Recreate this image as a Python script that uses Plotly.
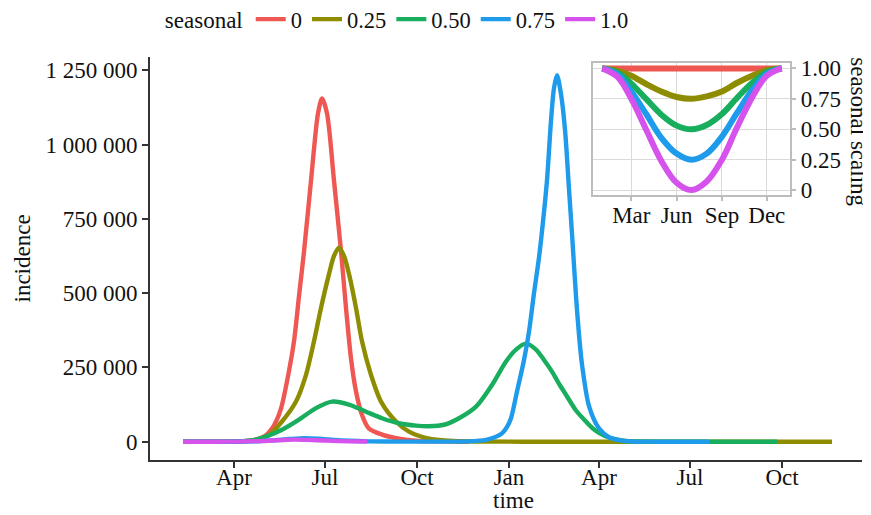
import plotly.graph_objects as go

# ---------------- data ----------------
SERIES_NAMES = ["0", "0.25", "0.50", "0.75", "1.0"]
SERIES_COLORS = ["#EE5752", "#8E8C00", "#19AE5E", "#1E9BEA", "#D552EC"]

s0_dates = ["2020-02-10", "2020-03-12", "2020-04-01", "2020-04-11", "2020-04-21", "2020-04-26",
            "2020-05-03", "2020-05-09", "2020-05-14", "2020-05-18", "2020-05-24", "2020-05-31",
            "2020-06-05", "2020-06-10", "2020-06-17", "2020-06-24", "2020-06-28", "2020-07-03",
            "2020-07-10", "2020-07-17", "2020-07-22", "2020-07-27", "2020-08-01", "2020-08-07",
            "2020-08-14", "2020-08-27", "2020-09-13", "2020-09-30", "2020-10-23", "2020-11-22"]
s0_values = [0, 0, 300, 1000, 5000, 10000,
             22000, 44000, 75000, 111000, 203000, 338000,
             490000, 640000, 878000, 1105000, 1155000, 1105000,
             878000, 642000, 450000, 280000, 169000, 90000,
             44000, 24000, 10000, 3000, 1000, 0]

s25_dates = ["2020-02-10", "2020-03-12", "2020-04-01", "2020-04-11", "2020-04-23", "2020-05-06",
             "2020-05-19", "2020-06-02", "2020-06-12", "2020-06-20", "2020-06-27", "2020-07-05",
             "2020-07-10", "2020-07-15", "2020-07-20", "2020-07-25", "2020-08-01", "2020-08-07",
             "2020-08-16", "2020-08-26", "2020-09-10", "2020-09-23", "2020-10-13", "2020-11-02",
             "2020-12-02", "2021-01-15", "2021-06-01", "2021-11-20"]
s25_values = [0, 0, 500, 2000, 7000, 23000,
              68000, 135000, 225000, 338000, 450000, 564000,
              625000, 653000, 625000, 564000, 450000, 338000,
              225000, 135000, 68000, 34000, 10000, 3000,
              500, 0, 0, 0]

s50_dates = ["2020-02-10", "2020-03-12", "2020-04-01", "2020-04-16", "2020-04-23", "2020-05-03",
             "2020-05-19", "2020-06-05", "2020-06-22", "2020-07-08", "2020-07-25", "2020-08-11",
             "2020-08-27", "2020-09-13", "2020-09-30", "2020-10-13", "2020-10-28", "2020-11-12",
             "2020-11-29", "2020-12-15", "2020-12-29", "2021-01-08", "2021-01-18", "2021-01-28",
             "2021-02-05", "2021-02-13", "2021-02-20", "2021-02-27", "2021-03-09", "2021-03-17",
             "2021-03-25", "2021-04-01", "2021-04-11", "2021-04-26", "2021-05-11", "2021-05-31",
             "2021-09-26"]
s50_values = [0, 0, 500, 3000, 7000, 17000,
              40000, 74000, 113000, 135000, 125000, 101000,
              79000, 62000, 54000, 52000, 57000, 79000,
              118000, 191000, 270000, 310000, 330000, 310000,
              275000, 236000, 195000, 158000, 105000, 75000,
              47000, 30000, 14000, 3000, 500, 0,
              0]

s75_dates = ["2020-02-10", "2020-03-12", "2020-04-01", "2020-04-26", "2020-05-11", "2020-05-26",
             "2020-06-10", "2020-06-25", "2020-07-10", "2020-07-25", "2020-08-14", "2020-09-13",
             "2020-10-23", "2020-11-22", "2020-12-09", "2020-12-17", "2020-12-25", "2020-12-30",
             "2021-01-03", "2021-01-09", "2021-01-16", "2021-01-21", "2021-01-26", "2021-01-31",
             "2021-02-04", "2021-02-08", "2021-02-12", "2021-02-15", "2021-02-18", "2021-02-22",
             "2021-02-26", "2021-03-02", "2021-03-05", "2021-03-09", "2021-03-12", "2021-03-15",
             "2021-03-22", "2021-04-01", "2021-04-11", "2021-04-21", "2021-05-01", "2021-05-31",
             "2021-07-20"]
s75_values = [0, 0, 300, 1500, 5000, 9000,
              12000, 10000, 6000, 3000, 1000, 300,
              150, 1000, 6000, 14000, 28000, 50000,
              79000, 169000, 275000, 370000, 500000, 620000,
              740000, 880000, 1080000, 1190000, 1233000, 1170000,
              1050000, 850000, 700000, 490000, 360000, 260000,
              120000, 45000, 15000, 5000, 1000, 0,
              0]

s100_dates = ["2020-02-10", "2020-03-12", "2020-04-01", "2020-04-26", "2020-05-16", "2020-05-31",
              "2020-06-15", "2020-06-30", "2020-07-15", "2020-08-12"]
s100_values = [0, 0, 300, 2000, 5000, 7000,
               6000, 4000, 2000, 500]

MAIN_X_RANGE = ["2020-01-08", "2021-12-20"]
MAIN_X_TICKS = ["2020-04-01", "2020-07-01", "2020-10-01", "2021-01-01",
                "2021-04-01", "2021-07-01", "2021-10-01"]
MAIN_X_LABELS = ["Apr", "Jul", "Oct", "Jan", "Apr", "Jul", "Oct"]
MAIN_Y_TICKS = [0, 250000, 500000, 750000, 1000000, 1250000]
MAIN_Y_LABELS = ["0", "250 000", "500 000", "750 000", "1 000 000", "1 250 000"]

# inset: seasonal scaling over one year
inset_dates = ["2021-01-01", "2021-02-01", "2021-03-01", "2021-04-01", "2021-05-01",
               "2021-06-01", "2021-07-01", "2021-08-01", "2021-09-01", "2021-10-01",
               "2021-11-01", "2021-12-01", "2021-12-31"]
inset_s0 = [1.0, 1.0, 1.0, 1.0, 1.0, 1.0, 1.0, 1.0, 1.0, 1.0, 1.0, 1.0, 1.0]
inset_s25 = [1.0, 0.98, 0.94, 0.87, 0.81, 0.765, 0.75, 0.77, 0.81, 0.88, 0.94, 0.985, 1.0]
inset_s50 = [1.0, 0.965, 0.875, 0.745, 0.62, 0.53, 0.50, 0.535, 0.625, 0.755, 0.88, 0.97, 1.0]
inset_s75 = [1.0, 0.95, 0.81, 0.62, 0.43, 0.30, 0.25, 0.30, 0.44, 0.63, 0.82, 0.955, 1.0]
inset_s100 = [1.0, 0.93, 0.75, 0.49, 0.24, 0.06, 0.0, 0.07, 0.25, 0.51, 0.76, 0.94, 1.0]

INSET_X_TICKS = ["2021-03-01", "2021-06-01", "2021-09-01", "2021-12-01"]
INSET_X_LABELS = ["Mar", "Jun", "Sep", "Dec"]
INSET_Y_TICKS = [0, 0.25, 0.5, 0.75, 1.0]
INSET_Y_LABELS = ["0", "0.25", "0.50", "0.75", "1.00"]

# ---------------- figure ----------------
FONT = "Liberation Serif"
TXT = "#111111"

main_data = [(s0_dates, s0_values), (s25_dates, s25_values), (s50_dates, s50_values),
             (s75_dates, s75_values), (s100_dates, s100_values)]
inset_data = [inset_s0, inset_s25, inset_s50, inset_s75, inset_s100]

fig = go.Figure()
for name, color, (d, v) in zip(SERIES_NAMES, SERIES_COLORS, main_data):
    fig.add_trace(go.Scatter(x=d, y=v, mode="lines", name=name,
                             line=dict(color=color, width=4.4, shape="spline", smoothing=0.8),
                             xaxis="x", yaxis="y"))
for name, color, v in zip(SERIES_NAMES, SERIES_COLORS, inset_data):
    fig.add_trace(go.Scatter(x=inset_dates, y=v, mode="lines", name=name, showlegend=False,
                             line=dict(color=color, width=6, shape="spline", smoothing=1.0),
                             xaxis="x2", yaxis="y2"))

axis_col = "#333333"
# the page body adds an 8 px offset, so the figure is 8 px smaller than the window
fig.update_layout(
    width=863, height=507,
    margin=dict(l=142, r=9, t=49, b=55, autoexpand=False),
    paper_bgcolor="white", plot_bgcolor="white",
    font=dict(family=FONT, size=23, color=TXT),
    showlegend=True,
    legend=dict(orientation="h", x=0.018, xanchor="left", y=1.093, yanchor="middle",
                title=dict(text="seasonal", side="left", font=dict(size=23)),
                font=dict(size=22.5), itemwidth=30, tracegroupgap=0,
                bgcolor="rgba(0,0,0,0)"),
    xaxis=dict(type="date", range=MAIN_X_RANGE, tickvals=MAIN_X_TICKS, ticktext=MAIN_X_LABELS,
               showline=True, linecolor=axis_col, linewidth=2, ticks="outside", ticklen=6,
               tickwidth=2, tickcolor=axis_col, showgrid=False, zeroline=False,
               ticklabelstandoff=-11,
               automargin=False, domain=[0, 1], anchor="y"),
    yaxis=dict(range=[-61650, 1294650], tickvals=MAIN_Y_TICKS, ticktext=MAIN_Y_LABELS,
               showline=True, linecolor=axis_col, linewidth=2, ticks="outside", ticklen=6,
               tickwidth=2, tickcolor=axis_col, showgrid=False, zeroline=False,
               automargin=False, domain=[0, 1], anchor="x"),
    xaxis2=dict(type="date", range=["2020-12-13", "2022-01-18"], tickvals=INSET_X_TICKS,
                ticktext=INSET_X_LABELS, domain=[0.622, 0.8995], anchor="y2",
                showline=True, mirror=True, linecolor="#BDBDBD", linewidth=1.5,
                ticks="outside", ticklen=4, tickcolor="#BDBDBD", tickwidth=1.5,
                showgrid=True, gridcolor="#DADADA", gridwidth=1.2, zeroline=False,
                ticklabelstandoff=-5,
                automargin=False, tickfont=dict(size=23)),
    yaxis2=dict(range=[-0.04, 1.044], tickvals=INSET_Y_TICKS, ticktext=INSET_Y_LABELS,
                domain=[0.6576, 0.985], anchor="x2", side="right",
                showline=True, mirror=True, linecolor="#BDBDBD", linewidth=1.5,
                ticks="outside", ticklen=4, tickcolor="#BDBDBD", tickwidth=1.5,
                showgrid=True, gridcolor="#DADADA", gridwidth=1.2, zeroline=False,
                automargin=False, tickfont=dict(size=23)),
    annotations=[
        dict(text="seasonal scaling", textangle=90, xref="paper", yref="paper",
             x=0.994, y=0.814, xanchor="center", yanchor="middle", showarrow=False,
             font=dict(size=23, family=FONT, color=TXT)),
        dict(text="incidence", textangle=-90, xref="paper", yref="paper",
             x=0, xshift=-128, y=0.5, xanchor="center", yanchor="middle", showarrow=False,
             font=dict(size=23, family=FONT, color=TXT)),
        dict(text="time", xref="paper", yref="paper",
             x=0.51, y=0, yshift=-55, xanchor="center", yanchor="bottom", showarrow=False,
             font=dict(size=23, family=FONT, color=TXT)),
    ],
)

fig.write_html("out.html")
